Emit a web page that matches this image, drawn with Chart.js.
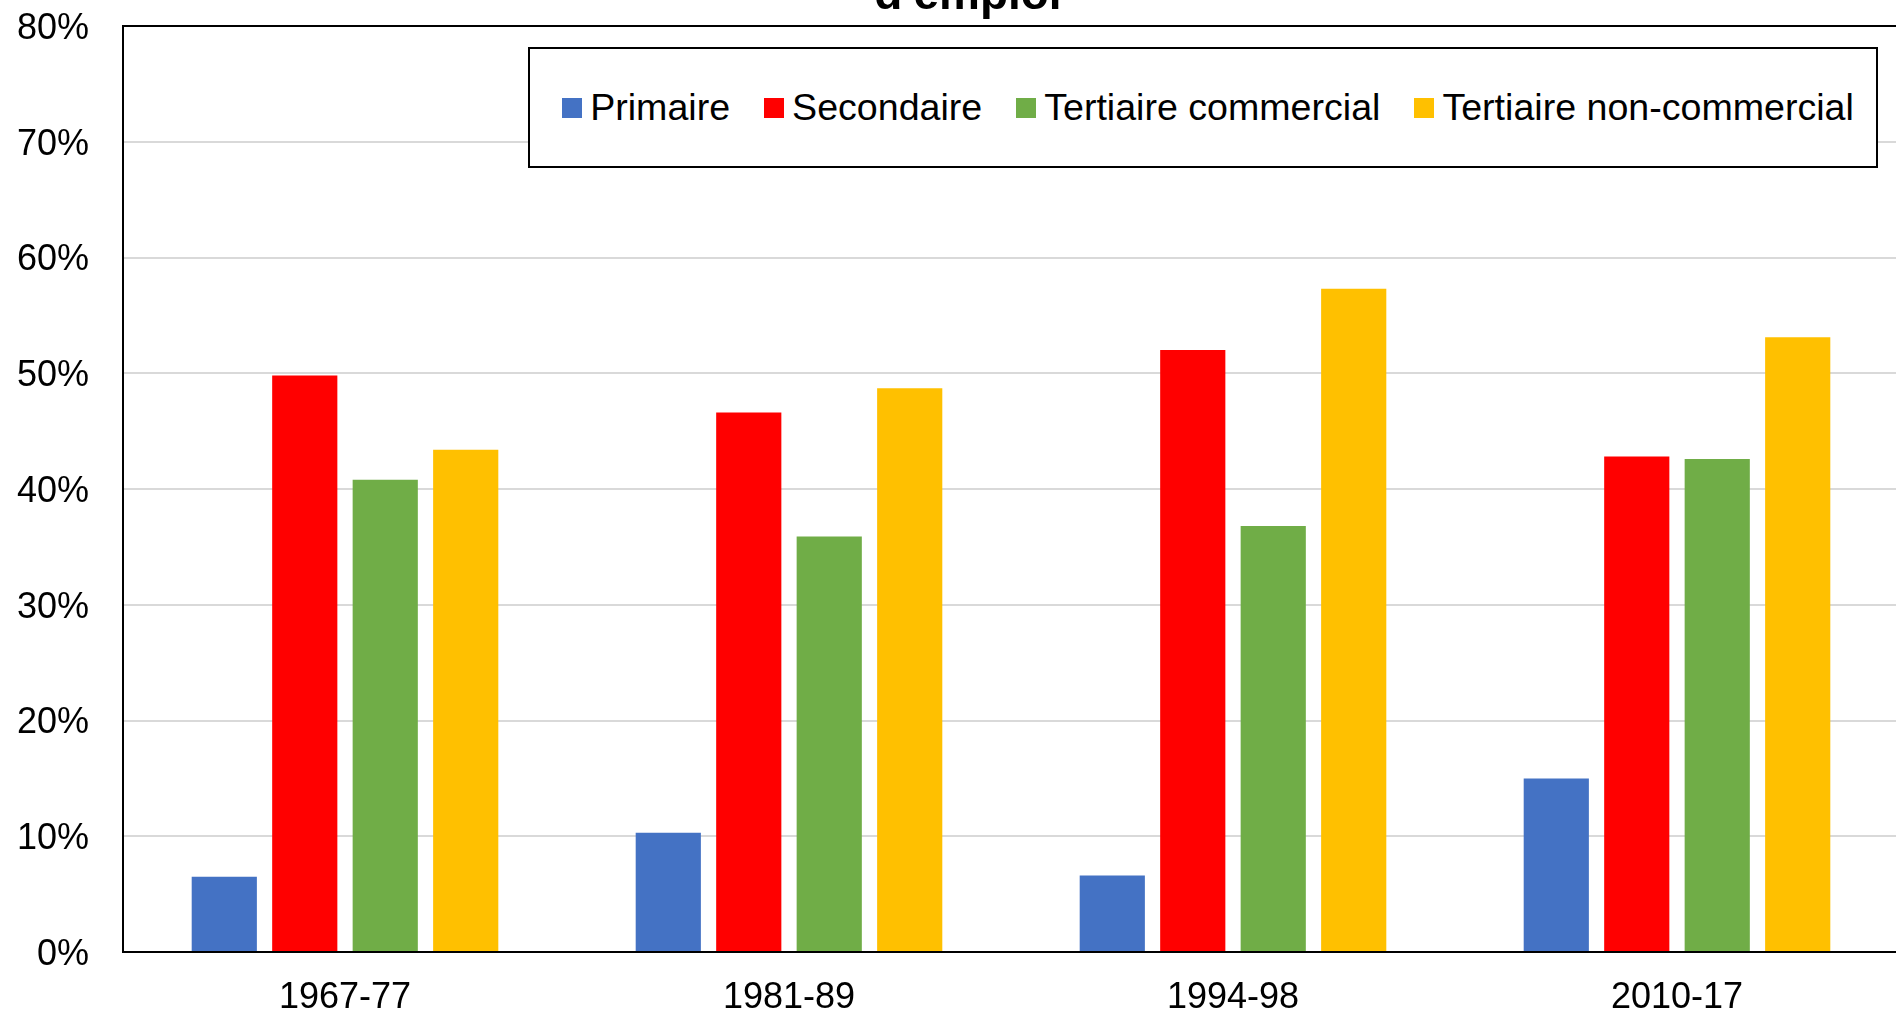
<!DOCTYPE html>
<html>
<head>
<meta charset="utf-8">
<script src="https://cdn.jsdelivr.net/npm/chart.js@4/dist/chart.umd.min.js"></script>
<style>
  html, body { margin: 0; padding: 0; background: #fff; overflow: hidden; }
  #wrap { position: relative; width: 1896px; height: 1015px; overflow: hidden; }
  #box { position: absolute; left: 0; top: 0; width: 1900px; height: 1020px; }
  #legend {
    position: absolute; left: 528px; top: 47px; width: 1346px; height: 117px;
    border: 2px solid #000; background: #fff; box-sizing: content-box;
    display: flex; align-items: center; justify-content: center; padding-left: 10px; width: 1336px;
    font-family: "Liberation Sans", Arial, sans-serif; font-size: 37.6px; color: #000;
  }
  #legend .item { display: flex; align-items: center; margin: 0 17px; }
  #legend .sw { width: 20px; height: 20px; margin-right: 8px; }
</style>
</head>
<body>
<div id="wrap">
  <div id="box"><canvas id="chart"></canvas></div>
  <div id="legend"></div>
</div>
<script>
// data
const periods = ['1967-77', '1981-89', '1994-98', '2010-17'];
const seriesNames = ['Primaire', 'Secondaire', 'Tertiaire commercial', 'Tertiaire non-commercial'];
const primaire = [6.5, 10.3, 6.6, 15.0];
const secondaire = [49.8, 46.6, 52.0, 42.8];
const tertiaireCom = [40.8, 35.9, 36.8, 42.6];
const tertiaireNonCom = [43.4, 48.7, 57.3, 53.1];
const yTicks = [0, 10, 20, 30, 40, 50, 60, 70, 80];
const colors = ['#4472C4', '#FF0000', '#70AD47', '#FFC000'];
const titleText = "d'emploi";

const FONT = '"Liberation Sans", Arial, sans-serif';

// legend (html, built from the series names)
const legendEl = document.getElementById('legend');
seriesNames.forEach((name, i) => {
  const it = document.createElement('div');
  it.className = 'item';
  it.innerHTML = '<span class="sw" style="background:' + colors[i] + '"></span><span>' + name + '</span>';
  legendEl.appendChild(it);
});

// title is cut off at the top of the picture
const clippedTitle = {
  id: 'clippedTitle',
  afterDraw(chart) {
    const c = chart.ctx;
    c.save();
    c.font = 'bold 46px ' + FONT;
    c.fillStyle = '#000';
    c.textAlign = 'center';
    c.textBaseline = 'alphabetic';
    c.fillText(titleText, 968, 9);
    c.restore();
  }
};

const allValues = [primaire, secondaire, tertiaireCom, tertiaireNonCom];

new Chart(document.getElementById('chart'), {
  type: 'bar',
  data: {
    labels: periods,
    datasets: seriesNames.map((name, i) => ({
      label: name,
      data: allValues[i],
      backgroundColor: colors[i],
      barPercentage: 0.81,
      categoryPercentage: 0.725
    }))
  },
  options: {
    responsive: true,
    maintainAspectRatio: false,
    animation: false,
    layout: { autoPadding: false, padding: { left: 17, top: 26, right: 1, bottom: 0 } },
    scales: {
      x: {
        grid: { display: false, drawTicks: false },
        border: { display: true, color: '#000', width: 2 },
        ticks: { color: '#000', padding: 24, font: { family: FONT, size: 36 } },
        afterFit: (s) => { s.height = 68; s.paddingLeft = 0; s.paddingRight = 0; }
      },
      y: {
        min: 0, max: 80,
        afterBuildTicks: (axis) => { axis.ticks = yTicks.map(v => ({ value: v })); },
        grid: {
          drawTicks: false,
          color: (ctx) => ctx.tick && ctx.tick.value === 80 ? '#000' : '#d9d9d9',
          lineWidth: 2
        },
        border: { display: true, color: '#000', width: 2 },
        ticks: {
          color: '#000', padding: 34, labelOffset: 3,
          font: { family: FONT, size: 36 },
          callback: (v) => v + '%'
        },
        afterFit: (s) => { s.width = 106; s.paddingTop = 0; s.paddingBottom = 0; }
      }
    },
    plugins: {
      legend: { display: false },
      title: { display: false },
      tooltip: { enabled: false }
    }
  },
  plugins: [clippedTitle]
});
</script>
</body>
</html>
